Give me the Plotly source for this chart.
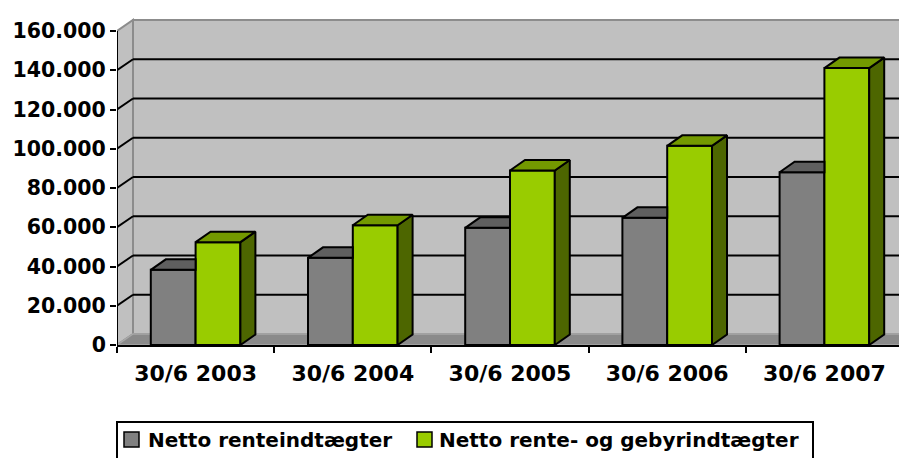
import plotly.graph_objects as go

categories = ["30/6 2003", "30/6 2004", "30/6 2005", "30/6 2006", "30/6 2007"]
netto_rente = [38300, 44400, 59700, 64800, 88000]
netto_rente_gebyr = [52400, 61000, 88900, 101500, 141100]
y_ticks = [0, 20000, 40000, 60000, 80000, 100000, 120000, 140000, 160000]
series_names = ["Netto renteindtægter", "Netto rente- og gebyrindtægter"]

GRAY, GRAY_TOP = "#808080", "#5f5f5f"
GREEN, GREEN_TOP, GREEN_SIDE = "#99CC00", "#739900", "#4D6600"
WALL, FLOOR = "#C0C0C0", "#8a8a8a"

# page body has an 8px margin: figure placed at (8, 8)
OFF = 8
W, H = 907 - OFF, 458 - OFF
# target screen pixels of plot area
AX_LEFT, AX_RIGHT, AX_TOP, AX_BOTTOM = 117, 907, 18, 345
ML, MR = AX_LEFT - OFF, (907 - AX_RIGHT)
MT, MB = AX_TOP - OFF, H - (AX_BOTTOM - OFF)
PX_PER_CAT = 157.2
YMAX = 160000
PX_PER_Y = 314 / YMAX
plot_h = H - MT - MB
plot_w = W - ML - MR
yr = [0, plot_h / PX_PER_Y]
xr = [-0.5, -0.5 + plot_w / PX_PER_CAT]

bw = 0.285
bdx = 15 / PX_PER_CAT
bdy = 10.5 / PX_PER_Y
wdx = 16 / PX_PER_CAT
wdy = 11 / PX_PER_Y
xpos = list(range(len(categories)))
n = len(categories)

fig = go.Figure()

fig.add_trace(go.Bar(x=xpos, y=netto_rente, width=bw, offset=-bw, name=series_names[0],
                     marker=dict(color=GRAY, line=dict(color="black", width=2)), hoverinfo="skip"))
fig.add_trace(go.Bar(x=xpos, y=netto_rente_gebyr, width=bw, offset=0, name=series_names[1],
                     marker=dict(color=GREEN, line=dict(color="black", width=2)), hoverinfo="skip"))

# gray top faces (clipped where green front covers)
gx, gy = [], []
for i, v in enumerate(netto_rente):
    x0, x1 = i - bw, i
    gx += [x0, x1, x1, x0 + bdx, x0, None]
    gy += [v, v, v + bdy, v + bdy, v, None]
fig.add_trace(go.Scatter(x=gx, y=gy, mode="lines", fill="toself", fillcolor=GRAY_TOP,
                         line=dict(color="black", width=2), showlegend=False, hoverinfo="skip"))

# green side faces and tops
sx, sy, tx, ty = [], [], [], []
for i, v in enumerate(netto_rente_gebyr):
    x1, x2 = i, i + bw
    sx += [x2, x2 + bdx, x2 + bdx, x2, x2, None]
    sy += [0, bdy, v + bdy, v, 0, None]
    tx += [x1, x2, x2 + bdx, x1 + bdx, x1, None]
    ty += [v, v, v + bdy, v + bdy, v, None]
fig.add_trace(go.Scatter(x=sx, y=sy, mode="lines", fill="toself", fillcolor=GREEN_SIDE,
                         line=dict(color="black", width=2), showlegend=False, hoverinfo="skip"))
fig.add_trace(go.Scatter(x=tx, y=ty, mode="lines", fill="toself", fillcolor=GREEN_TOP,
                         line=dict(color="black", width=2), showlegend=False, hoverinfo="skip"))

shapes = []
xl = -0.5
xend = n - 0.5
far = xr[1] + 0.5
# back wall
shapes.append(dict(type="path", layer="below", xref="x", yref="y",
                   path=f"M{xl+wdx},{wdy} L{far},{wdy} L{far},{YMAX+wdy} L{xl+wdx},{YMAX+wdy} Z",
                   fillcolor=WALL, line=dict(color="#8c8c8c", width=2)))
# left wall
shapes.append(dict(type="path", layer="below", xref="x", yref="y",
                   path=f"M{xl},0 L{xl+wdx},{wdy} L{xl+wdx},{YMAX+wdy} L{xl},{YMAX} Z",
                   fillcolor=WALL, line=dict(color="#8c8c8c", width=2)))
# floor
shapes.append(dict(type="path", layer="below", xref="x", yref="y",
                   path=f"M{xl},0 L{xend},0 L{xend+wdx},{wdy} L{xl+wdx},{wdy} Z",
                   fillcolor=FLOOR, line=dict(color="#a8a8a8", width=1.5)))
# gridlines
for v in y_ticks[1:-1]:
    shapes.append(dict(type="line", layer="below", xref="x", yref="y",
                       x0=xl + wdx, x1=far, y0=v + wdy, y1=v + wdy, line=dict(color="black", width=2)))
    shapes.append(dict(type="line", layer="below", xref="x", yref="y",
                       x0=xl, x1=xl + wdx, y0=v, y1=v + wdy, line=dict(color="black", width=2)))
# y axis line
shapes.append(dict(type="line", layer="above", xref="x", yref="y",
                   x0=xl, x1=xl, y0=0, y1=YMAX, line=dict(color="black", width=2)))


# manual legend (screen pixels -> paper coords)
def px(xs):
    return (xs - OFF - ML) / plot_w


def py(ys):
    return 1 - (ys - OFF - MT) / plot_h


LEG_L, LEG_R, LEG_T = 117, 813, 422
shapes.append(dict(type="rect", xref="paper", yref="paper", layer="above",
                   x0=px(LEG_L), x1=px(LEG_R), y0=py(LEG_T), y1=py(470),
                   fillcolor="white", line=dict(color="black", width=2)))
legend_items = [(series_names[0], GRAY, 124, 146), (series_names[1], GREEN, 417, 437)]
annotations = []
for name, col, sq_x, tx_x in legend_items:
    shapes.append(dict(type="rect", xref="paper", yref="paper", layer="above",
                       x0=px(sq_x), x1=px(sq_x + 15), y0=py(447), y1=py(432),
                       fillcolor=col, line=dict(color="black", width=1.5)))
    annotations.append(dict(text=name, xref="paper", yref="paper", x=px(tx_x), y=py(440),
                            xanchor="left", yanchor="middle", showarrow=False,
                            font=dict(family="DejaVu Sans", size=20, color="black", weight="bold")))

xfont = dict(family="DejaVu Sans", size=22, color="black", weight="bold")
yfont = dict(family="DejaVu Sans", size=20.5, color="black", weight="bold")

fig.update_layout(
    width=W, height=H,
    margin=dict(l=ML, r=MR, t=MT, b=MB, pad=0, autoexpand=False),
    paper_bgcolor="white", plot_bgcolor="white",
    shapes=shapes,
    annotations=annotations,
    showlegend=False,
    barmode="overlay",
    font=yfont,
)
fig.update_xaxes(range=xr, tickmode="array", tickvals=xpos, ticktext=categories, automargin=False,
                 showgrid=False, zeroline=False, showline=True, linecolor="black", linewidth=2,
                 ticks="outside", ticklen=8, tickcolor="rgba(0,0,0,0)",
                 minor=dict(tickmode="array", tickvals=[i - 0.5 for i in range(n + 1)],
                            ticks="outside", ticklen=6, tickcolor="black", tickwidth=2, showgrid=False),
                 tickfont=xfont, fixedrange=True)
fig.update_yaxes(range=yr, tickmode="array", tickvals=y_ticks, automargin=False,
                 ticktext=[f"{v:,}".replace(",", ".") for v in y_ticks],
                 showgrid=False, zeroline=False, showline=False,
                 ticks="outside", ticklen=6, tickcolor="black", tickwidth=2,
                 tickfont=yfont, fixedrange=True)

fig.write_html("out.html")
